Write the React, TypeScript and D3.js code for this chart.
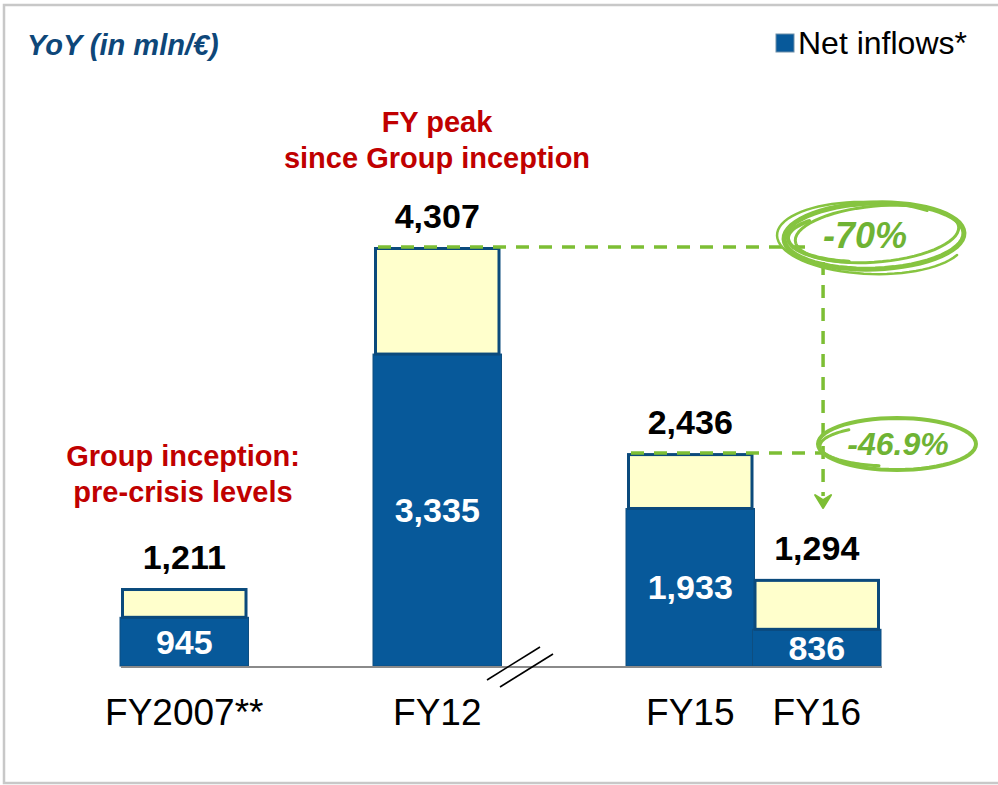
import React from "react";
import * as d3 from "d3";

const slots = ["FY2007**", "gap1", "FY12", "gap2", "FY15", "FY16"];
const categories = ["FY2007**", "FY12", "FY15", "FY16"];
const totals = [1211, 4307, 2436, 1294];
const netInflows = [945, 3335, 1933, 836];
const totalLabels = ["1,211", "4,307", "2,436", "1,294"];
const netLabels = ["945", "3,335", "1,933", "836"];
const axisMin = 503;

const W = 998;
const H = 785;
const FONT = "Arial, 'Liberation Sans', sans-serif";
const BLUE = "#07599A";
const EDGE = "#0B4A7C";
const YELLOW = "#FFFFCC";
const GREEN = "#7DBE34";
const GREEN_TXT = "#6FB334";
const RED = "#C00000";

export default function App() {
  const x = d3.scaleBand<string>().domain(slots).range([121, 880]).paddingInner(0).paddingOuter(0);
  const y = d3.scaleLinear().domain([axisMin, 4307]).range([666, 247]);
  const bw = x.bandwidth();
  const base = y(axisMin);

  const i12 = categories.indexOf("FY12");
  const i15 = categories.indexOf("FY15");
  const vx = (x("FY16") as number) + bw * 0.55;
  const yPeak = y(totals[i12]);
  const y15 = y(totals[i15]);

  const arcPath = (cx: number, cy: number, rx: number, ry: number, a0: number, a1: number, rot: number) => {
    const pts: [number, number][] = [];
    const n = 60;
    const r = (rot * Math.PI) / 180;
    for (let k = 0; k <= n; k++) {
      const t = a0 + ((a1 - a0) * k) / n;
      const px = rx * Math.cos(t);
      const py = ry * Math.sin(t);
      pts.push([cx + px * Math.cos(r) - py * Math.sin(r), cy + px * Math.sin(r) + py * Math.cos(r)]);
    }
    return d3.line()(pts) as string;
  };

  return (
    <svg width={W} height={H} style={{ position: "absolute", left: 0, top: 0, background: "#fff" }} fontFamily={FONT}>
      <rect x={4} y={5} width={1010} height={778} fill="#fff" stroke="#C8C8C8" strokeWidth={2.5} />

      {/* title */}
      <text x={27} y={55} fontSize={29} fontWeight="bold" fontStyle="italic" fill="#0E4779">YoY (in mln/€)</text>

      {/* legend */}
      <rect x={776} y={34} width={18} height={18} fill={BLUE} stroke="#6f8fa8" strokeWidth={1} />
      <text x={798} y={54} fontSize={32} fill="#000">Net inflows*</text>

      {/* bars */}
      {categories.map((c, i) => {
        const bx = x(c) as number;
        const yt = y(totals[i]);
        const yn = y(netInflows[i]);
        return (
          <g key={c}>
            <rect x={bx - 1} y={yn} width={bw + 2} height={base - yn} fill={BLUE} stroke="#0E4E80" strokeWidth={1} />
            <rect x={bx + 1.5} y={yt + 1.5} width={bw - 3} height={yn - yt - 1.5} fill={YELLOW} stroke={EDGE} strokeWidth={3} />
            <text x={bx + bw / 2} y={yt - 19} textAnchor="middle" fontSize={34} fontWeight="bold" fill="#000">{totalLabels[i]}</text>
            <text x={bx + bw / 2} y={(yn + base) / 2} dy="0.36em" textAnchor="middle" fontSize={34} fontWeight="bold" fill="#fff">{netLabels[i]}</text>
            <text x={bx + bw / 2} y={725} textAnchor="middle" fontSize={37} fill="#000">{c}</text>
          </g>
        );
      })}

      {/* baseline */}
      <line x1={121} x2={882} y1={base + 1} y2={base + 1} stroke="#8A8A8A" strokeWidth={2} />

      {/* axis break */}
      <line x1={487} y1={680} x2={540} y2={647} stroke="#000" strokeWidth={1.6} />
      <line x1={500} y1={687} x2={553} y2={654} stroke="#000" strokeWidth={1.6} />

      {/* red annotations */}
      <g fontSize={29} fontWeight="bold" fill={RED} textAnchor="middle">
        <text x={437} y={132}>FY peak</text>
        <text x={437} y={168}>since Group inception</text>
        <text x={183} y={466}>Group inception:</text>
        <text x={183} y={502}>pre-crisis levels</text>
      </g>

      {/* dashed guides */}
      <g stroke={GREEN} strokeWidth={3.5} fill="none" strokeDasharray="13 10">
        <line x1={(x("FY12") as number) + 4} x2={805} y1={yPeak} y2={yPeak} />
        <line x1={(x("FY15") as number) + 4} x2={vx} y1={y15} y2={y15} />
        <line x1={vx} x2={vx} y1={262} y2={496} />
      </g>
      <path d={`M${vx - 8},${495} L${vx},${508} L${vx + 8},${495} L${vx},${500} Z`} fill={GREEN} stroke={GREEN} strokeWidth={2} strokeLinejoin="round" />

      {/* -70% hand-drawn ellipse */}
      <g fill="none" stroke="#86C440" strokeLinecap="round">
        <path d={arcPath(874, 236, 90, 33, 0, Math.PI * 2, -2)} strokeWidth={5} />
        <path d={arcPath(877, 234, 82, 28, -0.3, Math.PI * 1.85, -5)} strokeWidth={3} />
        <path d={arcPath(871, 238, 94, 36, 0.4, Math.PI * 1.7, 2)} strokeWidth={2.5} />
        <path d={arcPath(860, 238, 72, 24, Math.PI * 0.55, Math.PI * 1.25, 0)} strokeWidth={4} />
      </g>
      <text x={865} y={248} textAnchor="middle" fontSize={36} fontWeight="bold" fontStyle="italic" fill={GREEN_TXT}>-70%</text>

      {/* -46.9% hand-drawn ellipse */}
      <g fill="none" stroke="#86C440" strokeLinecap="round">
        <path d={arcPath(897, 444, 79, 26, 0, Math.PI * 2, 0)} strokeWidth={4} />
        <path d={arcPath(890, 446, 70, 20, Math.PI * 0.55, Math.PI * 1.3, 0)} strokeWidth={3} />
      </g>
      <text x={898} y={455} textAnchor="middle" fontSize={32} fontWeight="bold" fontStyle="italic" fill={GREEN_TXT}>-46.9%</text>
    </svg>
  );
}
